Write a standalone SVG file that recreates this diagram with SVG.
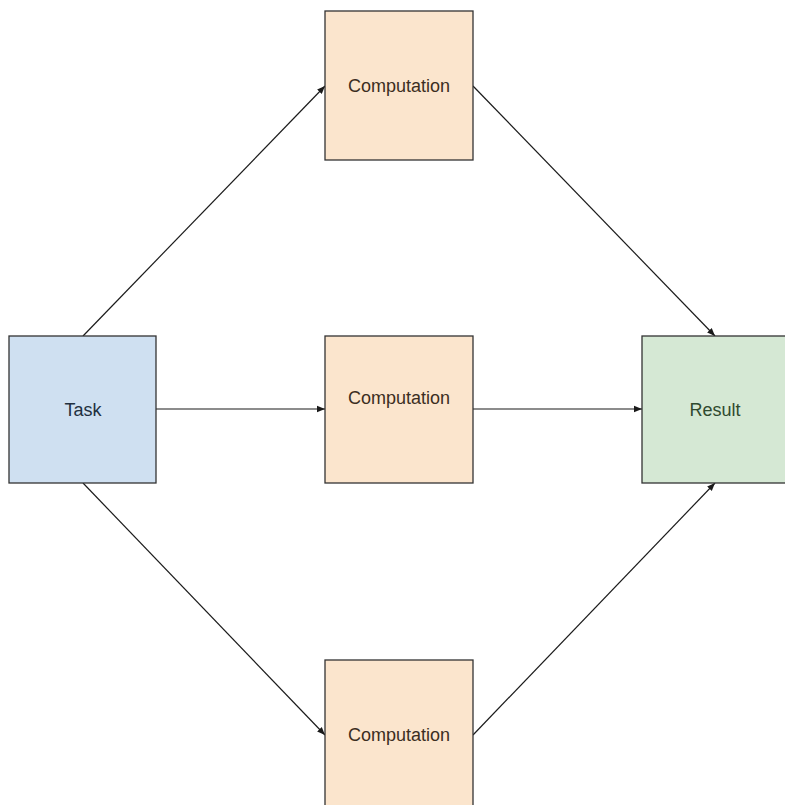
<svg xmlns="http://www.w3.org/2000/svg" width="785" height="805" viewBox="0 0 785 805">
  <defs>
    <marker id="arrow" viewBox="0 0 10 10" refX="10" refY="5" markerWidth="8" markerHeight="8" markerUnits="userSpaceOnUse" orient="auto">
      <path d="M0,1 L10,5 L0,9 Z" fill="#1a1a1a"/>
    </marker>
    <style>
      .box { stroke: #333333; stroke-width: 1.3; }
      .task { fill: #cfe0f1; }
      .comp { fill: #fbe5cd; }
      .result { fill: #d5e8d4; }
      .label { font-family: "Liberation Sans", "DejaVu Sans", sans-serif; font-size: 18px; text-anchor: middle; dominant-baseline: central; }
      .edge { fill: none; stroke: #1a1a1a; stroke-width: 1.2; marker-end: url(#arrow); }
    </style>
  </defs>
  <rect width="785" height="805" fill="#ffffff"/>

  <g id="edges">
    <line class="edge" x1="83" y1="336" x2="325" y2="86"/>
    <line class="edge" x1="156" y1="409" x2="325" y2="409"/>
    <line class="edge" x1="83" y1="483" x2="325" y2="735"/>
    <line class="edge" x1="473" y1="86" x2="715" y2="336"/>
    <line class="edge" x1="473" y1="409" x2="642" y2="409"/>
    <line class="edge" x1="473" y1="735" x2="715" y2="483"/>
  </g>

  <g id="task">
    <rect class="box task" x="9" y="336" width="147" height="147"/>
    <text class="label" x="83" y="410" fill="#22303f">Task</text>
  </g>

  <g id="computation-top">
    <rect class="box comp" x="325" y="11" width="148" height="149"/>
    <text class="label" x="399" y="86" fill="#3b2e22">Computation</text>
  </g>

  <g id="computation-middle">
    <rect class="box comp" x="325" y="336" width="148" height="147"/>
    <text class="label" x="399" y="398" fill="#3b2e22">Computation</text>
  </g>

  <g id="computation-bottom">
    <rect class="box comp" x="325" y="660" width="148" height="150"/>
    <text class="label" x="399" y="735" fill="#3b2e22">Computation</text>
  </g>

  <g id="result">
    <rect class="box result" x="642" y="336" width="148" height="147"/>
    <text class="label" x="715" y="410" fill="#2f4a2f">Result</text>
  </g>
</svg>
